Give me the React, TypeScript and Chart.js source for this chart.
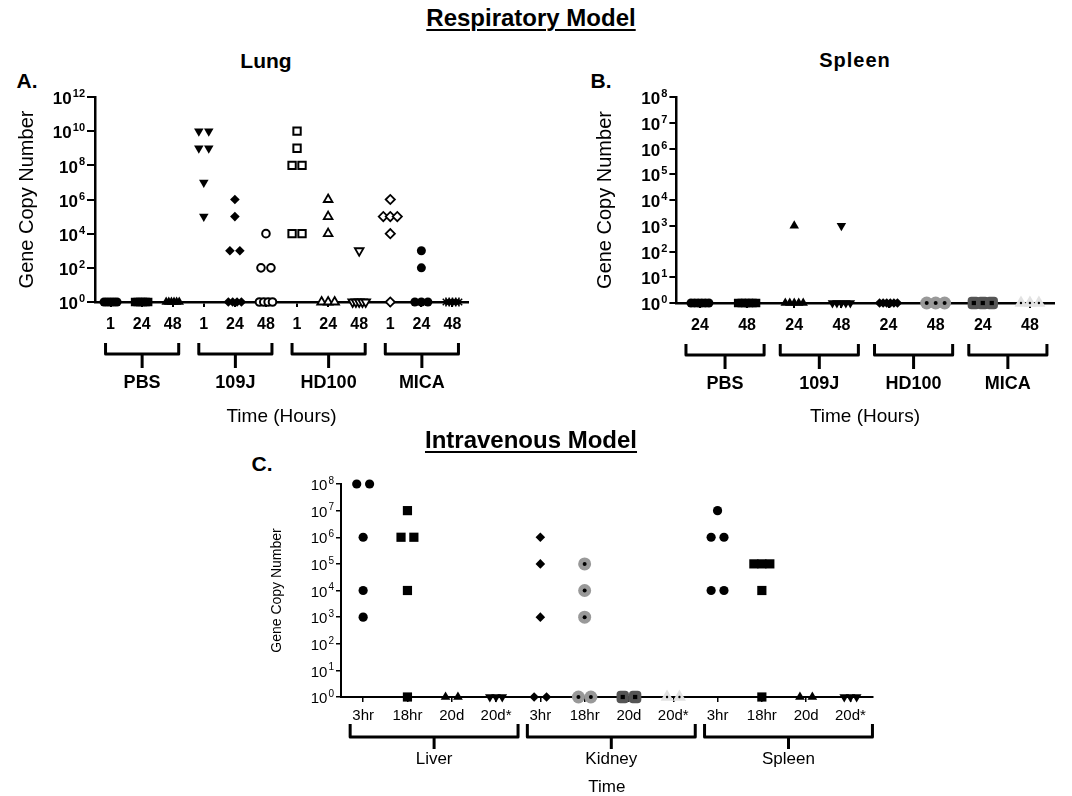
import React, { useEffect, useRef } from 'react';
import { Chart, registerables } from 'chart.js';

Chart.register(...registerables);

const FONT = '"Liberation Sans", Arial, Helvetica, sans-serif';

// ---------------- Panel A: Respiratory model, Lung ----------------
const lungTimes = ['1', '24', '48', '1', '24', '48', '1', '24', '48', '1', '24', '48'];
const lungGroups = ['PBS', '109J', 'HD100', 'MICA'];
const lungYTicks = [1, 1e2, 1e4, 1e6, 1e8, 1e10, 1e12];
const lungPBS_1h = [1, 1, 1, 1, 1, 1];
const lungPBS_24h = [1, 1, 1, 1, 1, 1];
const lungPBS_48h = [1, 1, 1, 1, 1, 1];
const lung109J_1h = [1e10, 1e10, 1e9, 1e9, 1e7, 1e5];
const lung109J_24h = [1e6, 1e5, 1e3, 1e3, 1, 1, 1, 1];
const lung109J_48h = [1e4, 1e2, 1e2, 1, 1, 1, 1];
const lungHD100_1h = [1e10, 1e9, 1e8, 1e8, 1e4, 1e4];
const lungHD100_24h = [1e6, 1e5, 1e4, 1, 1, 1];
const lungHD100_48h = [1e3, 1, 1, 1, 1, 1];
const lungMICA_1h = [1e6, 1e5, 1e5, 1e5, 1e4, 1];
const lungMICA_24h = [1e3, 1e2, 1, 1, 1];
const lungMICA_48h = [1, 1, 1, 1, 1];

// ---------------- Panel B: Respiratory model, Spleen ----------------
const spleenTimes = ['24', '48', '24', '48', '24', '48', '24', '48'];
const spleenGroups = ['PBS', '109J', 'HD100', 'MICA'];
const spleenYTicks = [1, 1e1, 1e2, 1e3, 1e4, 1e5, 1e6, 1e7, 1e8];
const spleenPBS_24h = [1, 1, 1, 1, 1, 1];
const spleenPBS_48h = [1, 1, 1, 1, 1, 1];
const spleen109J_24h = [1e3, 1, 1, 1, 1, 1];
const spleen109J_48h = [1e3, 1, 1, 1, 1, 1];
const spleenHD100_24h = [1, 1, 1, 1, 1, 1];
const spleenHD100_48h = [1, 1, 1];
const spleenMICA_24h = [1, 1, 1];
const spleenMICA_48h = [1, 1, 1];

// ---------------- Panel C: Intravenous model ----------------
const ivTimes = ['3hr', '18hr', '20d', '20d*', '3hr', '18hr', '20d', '20d*', '3hr', '18hr', '20d', '20d*'];
const ivOrgans = ['Liver', 'Kidney', 'Spleen'];
const ivYTicks = [1, 1e1, 1e2, 1e3, 1e4, 1e5, 1e6, 1e7, 1e8];
const liver_3hr = [1e8, 1e8, 1e6, 1e4, 1e3];
const liver_18hr = [1e7, 1e6, 1e6, 1e4, 1];
const liver_20d = [1, 1];
const liver_20dStar = [1, 1, 1];
const kidney_3hr = [1e6, 1e5, 1e3, 1, 1];
const kidney_18hr = [1e5, 1e4, 1e3, 1, 1];
const kidney_20d = [1, 1];
const kidney_20dStar = [1, 1];
const spleenIV_3hr = [1e7, 1e6, 1e6, 1e4, 1e4];
const spleenIV_18hr = [1e5, 1e5, 1e5, 1e4, 1];
const spleenIV_20d = [1, 1];
const spleenIV_20dStar = [1, 1, 1];

// ---------------- marker styles ----------------
type Marker = { style: string; r: number; fill: string; stroke: string; bw: number; rot?: number; inner?: Marker };
const mk = (style: string, r: number, fill: string, stroke = '#000', bw = 0, rot = 0, inner?: Marker): Marker => ({ style, r, fill, stroke, bw, rot, inner });

const A_M = {
  dot: mk('circle', 4.5, '#000'),
  sq: mk('rect', 6, '#000'),
  tri: mk('triangle', 5.5, '#000'),
  triDown: mk('triangle', 5.5, '#000', '#000', 0, 180),
  dia: mk('rectRot', 4.8, '#000'),
  oCircle: mk('circle', 3.8, '#fff', '#000', 2),
  oSq: mk('rect', 5.2, '#fff', '#000', 2),
  oTri: mk('triangle', 5, '#fff', '#000', 1.8),
  oTriDown: mk('triangle', 5, '#fff', '#000', 1.8, 180),
  oDia: mk('rectRot', 4.6, '#fff', '#000', 1.8),
  star: mk('star', 4.5, '#000', '#000', 1.5),
};
const C_M = {
  dot: mk('circle', 4.6, '#000'),
  sq: mk('rect', 6.5, '#000'),
  tri: mk('triangle', 5.6, '#000'),
  triDown: mk('triangle', 5.6, '#000', '#000', 0, 180),
  dia: mk('rectRot', 4.8, '#000'),
  grayDot: mk('circle', 6.5, '#999', '#999', 0, 0, mk('circle', 2, '#000')),
  darkSq: mk('rectRounded', 7.2, '#555', '#555', 0, 0, mk('rect', 3, '#000')),
  lightTri: mk('triangle', 7.5, '#e2e2e2', '#e2e2e2', 0, 0, mk('circle', 1.2, '#000')),
};

type PanelSpec = {
  box: { left: number; top: number; width: number; height: number };
  padTop: number; padRight: number; yWidth: number; xHeight: number;
  labels: string[]; groups: string[]; perGroup: number;
  yMax: number; yTicks: number[];
  series: number[][]; markers: Marker[];
  yTitle: string; yTitleSize: number; yTitlePad: number;
  xTitle: string; xTitleSize: number; xTitleLH: number; xTitlePad: number;
  tickFont: { size: number; weight: string };
  yLab: { base: number; exp: number; weight: string; drop: number; raise: number };
  xTickLen: number; xTickPad: number; yTickLen: number; yTickPad: number;
  axisW: number; tickW: number;
  step: number; span: number; baseSpan: number;
  br: { top: number; mid: number; stem: number; label: number; padL: number; padR: number; lw: number; size: number; weight: string };
};

// horizontal spreading of identical values inside one column (dot-plot layout)
function dodge(values: number[], step: number, span: number, baseSpan: number): number[] {
  const out = values.map(() => 0);
  const groups = new Map<number, number[]>();
  values.forEach((v, i) => {
    if (!groups.has(v)) groups.set(v, []);
    groups.get(v)!.push(i);
  });
  groups.forEach((idx, v) => {
    const n = idx.length;
    if (n < 2) return;
    const s = Math.min(step, (v === 1 ? baseSpan : span) / (n - 1));
    idx.forEach((i, j) => { out[i] = (j - (n - 1) / 2) * s; });
  });
  return out;
}

function makeChart(canvas: HTMLCanvasElement, p: PanelSpec): Chart {
  const datasets: any[] = [];
  p.series.forEach((vals, ci) => {
    const offs = dodge(vals, p.step, p.span, p.baseSpan);
    const m = p.markers[ci];
    const layers = m.inner ? [m, m.inner] : [m];
    layers.forEach((l, li) => datasets.push({
      data: vals.map((v, i) => ({ x: ci + offs[i], y: v })),
      order: li === 0 ? 1 : 0, // inner symbol drawn over its outer symbol
      showLine: false,
      clip: false,
      pointStyle: l.style,
      pointRadius: l.r,
      pointHoverRadius: l.r,
      pointRotation: l.rot || 0,
      pointBackgroundColor: l.fill,
      pointBorderColor: l.stroke,
      pointBorderWidth: l.bw,
      backgroundColor: l.fill,
      borderColor: l.stroke,
      borderWidth: l.bw,
    }));
  });

  // group brackets + group names under the category axis
  const brackets = {
    id: 'brackets',
    afterDraw(chart: any) {
      const ctx = chart.ctx as CanvasRenderingContext2D;
      const xs = chart.scales.x;
      const base = chart.chartArea.bottom;
      const b = p.br;
      ctx.save();
      ctx.strokeStyle = '#000';
      ctx.fillStyle = '#000';
      ctx.lineWidth = b.lw;
      ctx.lineJoin = 'round';
      ctx.lineCap = 'butt';
      ctx.font = `${b.weight} ${b.size}px ${FONT}`;
      ctx.textAlign = 'center';
      ctx.textBaseline = 'middle';
      p.groups.forEach((g, gi) => {
        const first = gi * p.perGroup;
        const last = first + p.perGroup - 1;
        const x1 = xs.getPixelForValue(first) - b.padL;
        const x2 = xs.getPixelForValue(last) + b.padR;
        const mid = (x1 + x2) / 2;
        ctx.beginPath();
        ctx.moveTo(x1, base + b.top);
        ctx.lineTo(x1, base + b.mid);
        ctx.lineTo(x2, base + b.mid);
        ctx.lineTo(x2, base + b.top);
        ctx.moveTo(mid, base + b.mid);
        ctx.lineTo(mid, base + b.stem);
        ctx.stroke();
        ctx.fillText(g, mid, base + b.label);
      });
      ctx.restore();
    },
  };

  // log tick labels written as 10 with a raised exponent, at the scale's tick positions
  const powerLabels = {
    id: 'powerLabels',
    afterDraw(chart: any) {
      const ctx = chart.ctx as CanvasRenderingContext2D;
      const ys = chart.scales.y;
      const L = p.yLab;
      const xr = ys.right - p.yTickLen - p.yTickPad;
      ctx.save();
      ctx.fillStyle = '#000';
      ctx.textAlign = 'right';
      ctx.textBaseline = 'middle';
      ys.ticks.forEach((t: any) => {
        const y = ys.getPixelForValue(t.value);
        const e = String(Math.round(Math.log10(t.value)));
        ctx.font = `${L.weight} ${L.exp}px ${FONT}`;
        const ew = ctx.measureText(e).width;
        ctx.fillText(e, xr, y - L.raise);
        ctx.font = `${L.weight} ${L.base}px ${FONT}`;
        ctx.fillText('10', xr - ew - 1, y + L.drop);
      });
      ctx.restore();
    },
  };

  const tickFont = { family: FONT, size: p.tickFont.size, weight: p.tickFont.weight as any };

  return new Chart(canvas, {
    type: 'scatter',
    data: { datasets },
    plugins: [brackets, powerLabels],
    options: {
      animation: false,
      responsive: false,
      maintainAspectRatio: false,
      events: [],
      layout: { padding: { top: p.padTop, right: p.padRight, left: 0, bottom: 0 } },
      plugins: { legend: { display: false }, tooltip: { enabled: false }, title: { display: false } },
      scales: {
        x: {
          type: 'linear',
          min: -0.5,
          max: p.labels.length - 0.5,
          afterBuildTicks: (s: any) => { s.ticks = p.labels.map((_, i) => ({ value: i })); },
          afterFit: (s: any) => { s.height = p.xHeight; },
          ticks: {
            autoSkip: false, maxRotation: 0, minRotation: 0, padding: p.xTickPad, color: '#000', font: tickFont,
            callback: (v: any) => p.labels[Math.round(Number(v))] ?? '',
          },
          grid: { drawOnChartArea: false, drawTicks: true, tickLength: p.xTickLen, color: '#000', lineWidth: p.tickW },
          border: { display: true, color: '#000', width: p.axisW },
          title: {
            display: true, text: p.xTitle, color: '#000',
            font: { family: FONT, size: p.xTitleSize, weight: 'normal' as any, lineHeight: p.xTitleLH },
            padding: { top: 0, bottom: p.xTitlePad },
          },
        },
        y: {
          type: 'logarithmic',
          min: 1,
          max: p.yMax,
          afterBuildTicks: (s: any) => { s.ticks = p.yTicks.map((v) => ({ value: v })); },
          afterFit: (s: any) => { s.width = p.yWidth; },
          ticks: { display: false, autoSkip: false, padding: p.yTickPad },
          grid: { drawOnChartArea: false, drawTicks: true, tickLength: p.yTickLen, color: '#000', lineWidth: p.tickW },
          border: { display: true, color: '#000', width: p.axisW },
          title: {
            display: true, text: p.yTitle, color: '#000',
            font: { family: FONT, size: p.yTitleSize, weight: 'normal' as any, lineHeight: 1.2 },
            padding: { top: p.yTitlePad, bottom: 0 },
          },
        },
      },
    } as any,
  });
}

const panelA: PanelSpec = {
  box: { left: 0, top: 77, width: 480, height: 358 },
  padTop: 20, padRight: 12, yWidth: 95, xHeight: 133,
  labels: lungTimes, groups: lungGroups, perGroup: 3,
  yMax: 1e12, yTicks: lungYTicks,
  series: [lungPBS_1h, lungPBS_24h, lungPBS_48h, lung109J_1h, lung109J_24h, lung109J_48h,
    lungHD100_1h, lungHD100_24h, lungHD100_48h, lungMICA_1h, lungMICA_24h, lungMICA_48h],
  markers: [A_M.dot, A_M.sq, A_M.tri, A_M.triDown, A_M.dia, A_M.oCircle,
    A_M.oSq, A_M.oTri, A_M.oTriDown, A_M.oDia, A_M.dot, A_M.star],
  yTitle: 'Gene Copy Number', yTitleSize: 20, yTitlePad: 15,
  xTitle: 'Time (Hours)', xTitleSize: 19, xTitleLH: 1.2, xTitlePad: 6.6,
  tickFont: { size: 16, weight: 'bold' },
  yLab: { base: 17, exp: 11, weight: 'bold', drop: 2.5, raise: 3 },
  xTickLen: 5, xTickPad: 8, yTickLen: 8, yTickPad: 2,
  axisW: 2.5, tickW: 2,
  step: 0.32, span: 0.45, baseSpan: 0.42,
  br: { top: 41, mid: 52, stem: 66, label: 81, padL: 5, padR: 6, lw: 3, size: 18, weight: 'bold' },
};

const panelB: PanelSpec = {
  box: { left: 560, top: 77, width: 512, height: 358 },
  padTop: 20, padRight: 18.5, yWidth: 116.4, xHeight: 132,
  labels: spleenTimes, groups: spleenGroups, perGroup: 2,
  yMax: 1e8, yTicks: spleenYTicks,
  series: [spleenPBS_24h, spleenPBS_48h, spleen109J_24h, spleen109J_48h,
    spleenHD100_24h, spleenHD100_48h, spleenMICA_24h, spleenMICA_48h],
  markers: [A_M.dot, A_M.sq, A_M.tri, A_M.triDown, A_M.dia, C_M.grayDot, C_M.darkSq, C_M.lightTri],
  yTitle: 'Gene Copy Number', yTitleSize: 20, yTitlePad: 33,
  xTitle: 'Time (Hours)', xTitleSize: 19, xTitleLH: 1.2, xTitlePad: 6.6,
  tickFont: { size: 16, weight: 'bold' },
  yLab: { base: 17, exp: 11, weight: 'bold', drop: 2.5, raise: 3 },
  xTickLen: 5, xTickPad: 8, yTickLen: 7, yTickPad: 2,
  axisW: 2.5, tickW: 2,
  step: 0.38, span: 0.38, baseSpan: 0.38,
  br: { top: 41, mid: 52, stem: 66, label: 81, padL: 14, padR: 17, lw: 3, size: 18, weight: 'bold' },
};

const panelC: PanelSpec = {
  box: { left: 240, top: 464, width: 660, height: 332 },
  padTop: 20, padRight: 27.4, yWidth: 101, xHeight: 99,
  labels: ivTimes, groups: ivOrgans, perGroup: 4,
  yMax: 1e8, yTicks: ivYTicks,
  series: [liver_3hr, liver_18hr, liver_20d, liver_20dStar, kidney_3hr, kidney_18hr, kidney_20d, kidney_20dStar,
    spleenIV_3hr, spleenIV_18hr, spleenIV_20d, spleenIV_20dStar],
  markers: [C_M.dot, C_M.sq, C_M.tri, C_M.triDown, C_M.dia, C_M.grayDot, C_M.darkSq, C_M.lightTri,
    C_M.dot, C_M.sq, C_M.tri, C_M.triDown],
  yTitle: 'Gene Copy Number', yTitleSize: 14, yTitlePad: 28.6,
  xTitle: 'Time', xTitleSize: 17, xTitleLH: 1, xTitlePad: 0.5,
  tickFont: { size: 15, weight: 'normal' },
  yLab: { base: 15, exp: 10, weight: 'normal', drop: 2, raise: 3 },
  xTickLen: 5, xTickPad: 5, yTickLen: 5, yTickPad: 2,
  axisW: 2, tickW: 1.5,
  step: 0.29, span: 0.36, baseSpan: 0.28,
  br: { top: 27, mid: 40, stem: 52, label: 62, padL: 13, padR: 22, lw: 3, size: 17, weight: 'normal' },
};

function Panel({ spec }: { spec: PanelSpec }) {
  const ref = useRef<HTMLCanvasElement>(null);
  useEffect(() => {
    if (!ref.current) return;
    const chart = makeChart(ref.current, spec);
    return () => chart.destroy();
  }, [spec]);
  const b = spec.box;
  return (
    <canvas
      ref={ref}
      width={b.width}
      height={b.height}
      style={{ position: 'absolute', left: b.left, top: b.top, width: b.width, height: b.height }}
    />
  );
}

function Label({ x, y, text, size, bold = true, underline = false, spacing = 0 }:
  { x: number; y: number; text: string; size: number; bold?: boolean; underline?: boolean; spacing?: number }) {
  return (
    <div
      style={{
        position: 'absolute', left: x, top: y, transform: 'translate(-50%, -50%)',
        fontFamily: FONT, fontSize: size, fontWeight: bold ? 'bold' : 'normal', lineHeight: 1,
        whiteSpace: 'nowrap', color: '#000', letterSpacing: spacing,
        textDecoration: underline ? 'underline' : 'none', textDecorationThickness: underline ? 2 : undefined,
        textUnderlineOffset: underline ? 3 : undefined,
      }}
    >
      {text}
    </div>
  );
}

export default function App() {
  useEffect(() => {
    document.body.style.margin = '0';
    document.body.style.overflow = 'hidden';
  }, []);
  return (
    <div style={{ position: 'relative', width: 1072, height: 796, overflow: 'hidden', background: '#fff' }}>
      <Label x={531} y={18} text="Respiratory Model" size={24} underline />
      <Label x={266} y={60} text="Lung" size={21} />
      <Label x={855} y={60} text="Spleen" size={20} spacing={1} />
      <Label x={27} y={80} text="A." size={21} />
      <Label x={601} y={80} text="B." size={21} />
      <Panel spec={panelA} />
      <Panel spec={panelB} />
      <Label x={531} y={440} text="Intravenous Model" size={24} underline />
      <Label x={262} y={463} text="C." size={21} />
      <Panel spec={panelC} />
    </div>
  );
}
